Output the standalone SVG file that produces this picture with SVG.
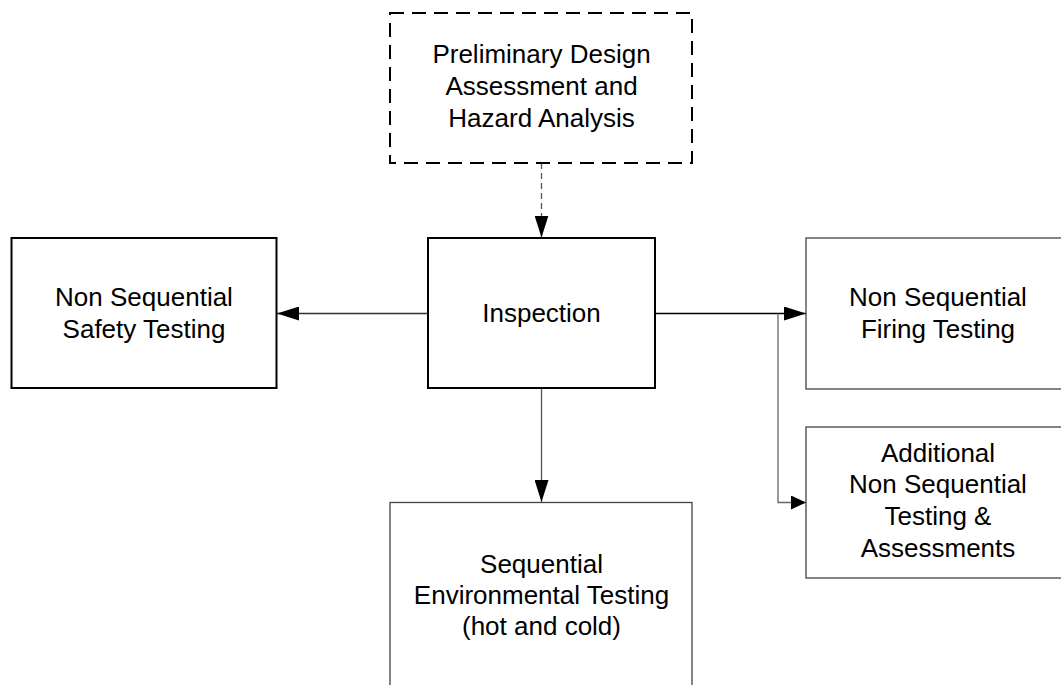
<svg xmlns="http://www.w3.org/2000/svg" width="1061" height="685" viewBox="0 0 1061 685">
<style>
.thick{fill:#fff;stroke:#000;stroke-width:2}
.thin{fill:#fff;stroke:#444;stroke-width:1.3}
.dash{fill:#fff;stroke:#000;stroke-width:2;stroke-dasharray:14 8}
.lbl{font-family:"Liberation Sans",Arial,sans-serif;font-size:26px;fill:#000;text-anchor:middle}
.con{fill:none;stroke:#333;stroke-width:1.3}
.cond{fill:none;stroke:#555;stroke-width:1.3;stroke-dasharray:6 4}
</style>
<defs>
<marker id="ah" markerUnits="userSpaceOnUse" markerWidth="22" markerHeight="14" refX="22" refY="7" orient="auto">
<path d="M0,0 L22,7 L0,14 z" fill="#000"/>
</marker>
<marker id="ahs" markerUnits="userSpaceOnUse" markerWidth="15" markerHeight="14" refX="15" refY="7" orient="auto">
<path d="M0,0 L15,7 L0,14 z" fill="#000"/>
</marker>
</defs>
<rect width="1061" height="685" fill="#fff"/>
<g id="connectors">
<path class="cond" d="M541.5,163 L541.5,237.5" marker-end="url(#ah)"/>
<path class="con" d="M428,313.5 L277,313.5" marker-end="url(#ah)"/>
<path class="con" style="stroke:#000" d="M655,313.5 L806,313.5" marker-end="url(#ah)"/>
<path class="con" style="stroke:#666" d="M778,313.5 L778,502.5 L806,502.5" marker-end="url(#ahs)"/>
<path class="con" style="stroke:#555" d="M541.5,389 L541.5,502" marker-end="url(#ah)"/>
</g>
<g id="prelim">
<rect class="dash" x="390" y="13" width="302" height="150"/>
<text class="lbl" x="541.5" y="63">Preliminary Design</text>
<text class="lbl" x="541.5" y="95">Assessment and</text>
<text class="lbl" x="541.5" y="127">Hazard Analysis</text>
</g>
<g id="safety">
<rect class="thick" x="11.5" y="238" width="265" height="150"/>
<text class="lbl" x="144" y="306">Non Sequential</text>
<text class="lbl" x="144" y="338">Safety Testing</text>
</g>
<g id="inspection">
<rect class="thick" x="428" y="238" width="227" height="150"/>
<text class="lbl" x="541.5" y="322">Inspection</text>
</g>
<g id="firing">
<rect class="thin" x="806" y="238" width="265" height="151"/>
<text class="lbl" x="938" y="306">Non Sequential</text>
<text class="lbl" x="938" y="338">Firing Testing</text>
</g>
<g id="additional">
<rect class="thin" x="806" y="427" width="265" height="151"/>
<text class="lbl" x="938" y="462">Additional</text>
<text class="lbl" x="938" y="493">Non Sequential</text>
<text class="lbl" x="938" y="525">Testing &amp;</text>
<text class="lbl" x="938" y="557">Assessments</text>
</g>
<g id="environmental">
<rect class="thin" x="390" y="502.5" width="302" height="200"/>
<text class="lbl" x="541.5" y="573">Sequential</text>
<text class="lbl" x="541.5" y="604">Environmental Testing</text>
<text class="lbl" x="541.5" y="635">(hot and cold)</text>
</g>
</svg>
